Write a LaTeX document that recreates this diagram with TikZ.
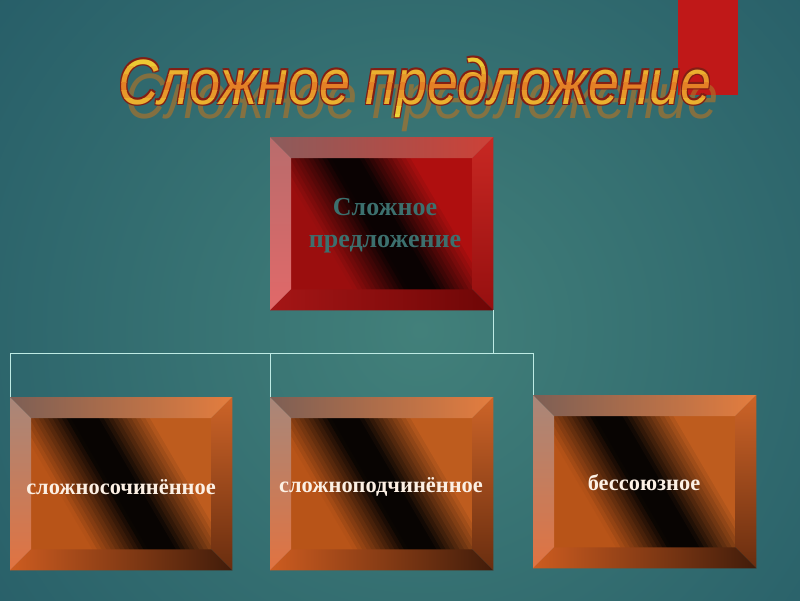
\documentclass[tikz,border=0pt]{standalone}
\usepackage{fontspec}
\setmainfont{Liberation Serif}
\newfontfamily\titlefont{Liberation Sans}
\usepackage{graphicx}
\usetikzlibrary{calc}
\definecolor{bgin}{RGB}{66,128,122}
\definecolor{bgmid}{RGB}{36,90,102}
\definecolor{bgout}{RGB}{16,56,76}
\definecolor{redtab}{RGB}{192,24,24}
\definecolor{connc}{RGB}{190,235,228}
\definecolor{ttyel}{RGB}{238,215,55}
\definecolor{ttora}{RGB}{228,128,38}
\definecolor{ttout}{RGB}{130,30,20}
\definecolor{ttshadow}{RGB}{175,115,40}
\definecolor{toptext}{RGB}{60,112,110}
\definecolor{lbltext}{RGB}{252,240,228}
% orange boxes
\definecolor{otA}{RGB}{125,95,85}\definecolor{otB}{RGB}{228,125,62}
\definecolor{olA}{RGB}{168,135,122}\definecolor{olB}{RGB}{225,115,65}
\definecolor{orA}{RGB}{205,100,40}\definecolor{orB}{RGB}{105,45,15}
\definecolor{obA}{RGB}{205,92,32}\definecolor{obB}{RGB}{65,28,10}
\definecolor{oiA}{RGB}{190,92,30}\definecolor{oiM}{RGB}{8,4,2}\definecolor{oiB}{RGB}{184,84,24}
% red box
\definecolor{rtA}{RGB}{140,92,92}\definecolor{rtB}{RGB}{205,65,55}
\definecolor{rlA}{RGB}{185,108,108}\definecolor{rlB}{RGB}{225,105,105}
\definecolor{rrA}{RGB}{200,40,35}\definecolor{rrB}{RGB}{150,15,15}
\definecolor{rbA}{RGB}{165,22,22}\definecolor{rbB}{RGB}{110,6,6}
\definecolor{riA}{RGB}{175,15,15}\definecolor{riM}{RGB}{10,2,2}\definecolor{riB}{RGB}{155,14,14}
\pgfdeclareradialshading{bgshade}{\pgfpoint{0bp}{0bp}}{color(0bp)=(bgin); color(28bp)=(bgmid); color(50bp)=(bgout)}
\newcommand\titletext{\scalebox{0.87}[1]{\titlefont\fontsize{64}{70}\selectfont\itshape Сложное предложение}}
\newcommand\stripfill[4]{% #1 node, #2 colour, #3 ta, #4 tb
  \fill[fill=#2] ($(#1.center)+(#3*0.862-81,-#3*0.507-138)$) -- ($(#1.center)+(#3*0.862+81,-#3*0.507+138)$) -- ($(#1.center)+(#4*0.862+81,-#4*0.507+138)$) -- ($(#1.center)+(#4*0.862-81,-#4*0.507-138)$) -- cycle;}
\newcommand\bevelbox[2]{%
  \coordinate (#1-itl) at ($(#1.north west)+(21,21)$);
  \coordinate (#1-itr) at ($(#1.north east)+(-21,21)$);
  \coordinate (#1-ibl) at ($(#1.south west)+(21,-21)$);
  \coordinate (#1-ibr) at ($(#1.south east)+(-21,-21)$);
  \begin{scope}
  \clip (#1-itl) rectangle (#1-ibr);
  \foreach \j in {0,...,56}{
    \pgfmathsetmacro\ta{-114+4*\j}
    \pgfmathsetmacro\tb{\ta+4.7}
    \pgfmathsetmacro\s{(\ta+2+111)/222}
    \ifdim\s pt<0.505pt
      \pgfmathsetmacro\w{100*max(0,min(1,(\s-0.24)/0.21))}
      \stripfill{#1}{#2iM!\w!#2iB}{\ta}{\tb}
    \else
      \pgfmathsetmacro\w{100*max(0,min(1,(0.77-\s)/0.21))}
      \stripfill{#1}{#2iM!\w!#2iA}{\ta}{\tb}
    \fi
  }
  \end{scope}
  \shade[left color=#2tA, right color=#2tB] (#1.north west) -- (#1.north east) -- (#1-itr) -- (#1-itl) -- cycle;
  \shade[top color=#2lA, bottom color=#2lB] (#1.north west) -- (#1-itl) -- (#1-ibl) -- (#1.south west) -- cycle;
  \shade[top color=#2rA, bottom color=#2rB] (#1.north east) -- (#1.south east) -- (#1-ibr) -- (#1-itr) -- cycle;
  \shade[left color=#2bA, right color=#2bB] (#1.south west) -- (#1-ibl) -- (#1-ibr) -- (#1.south east) -- cycle;
}
\begin{document}
\begin{tikzpicture}[x=1pt,y=-1pt,
  boxnode/.style={anchor=north west, inner sep=0pt, draw=none, minimum height=173},
  conn/.style={draw=connc, line width=0.8pt},
  lbl/.style={text=lbltext, font=\fontsize{22.4}{26}\selectfont\bfseries, inner sep=0pt},
  toplbl/.style={text=toptext, font=\fontsize{26}{32}\selectfont\bfseries, align=center, inner sep=0pt}]
\useasboundingbox (0,0) rectangle (800,600);
% background
\begin{scope}
\clip (0,0) rectangle (800,600);
\shade[shading=bgshade] (420,330) circle (540);
\end{scope}
\fill[redtab] (678,0) rectangle (738,95);
% title: shadow, outline, gradient fill
\node[anchor=base, text=ttshadow, opacity=0.65, inner sep=0pt] (tshadow) at (422,118) {\titletext};
\foreach \dx/\dy [count=\k] in {1.2/1.2,1.2/-1.2,-1.2/1.2,-1.2/-1.2}{
  \node[anchor=base, text=ttout, inner sep=0pt] (tout\k) at (415+\dx,104+\dy) {\titletext};
}
\foreach \i in {0,...,8}{
  \pgfmathsetmacro\ya{50+8*\i}
  \pgfmathsetmacro\yb{\ya+8.3}
  \pgfmathsetmacro\pc{min(100,abs(\i-4)*28)}
  \begin{scope}
  \clip (0,\ya) rectangle (800,\yb);
  \node[anchor=base, text=ttyel!\pc!ttora, inner sep=0pt] (tband\i) at (415,104) {\titletext};
  \end{scope}
}
% boxes
\node[boxnode, minimum width=223] (top) at (270,137) {};
\node[boxnode, minimum width=222] (b1) at (10,397) {};
\node[boxnode, minimum width=223] (b2) at (270,397) {};
\node[boxnode, minimum width=223] (b3) at (533,395) {};
\bevelbox{top}{r}
\bevelbox{b1}{o}
\bevelbox{b2}{o}
\bevelbox{b3}{o}
% connectors
\coordinate (busL) at (10,353);
\coordinate (busR) at (533,353);
\draw[conn] (top.south east) -- (top.south east |- busL);
\draw[conn] (b1.north west) -- (busL) -- (busR) -- (b3.north west);
\draw[conn] (b2.north west) -- (b2.north west |- busL);
% labels
\node[toplbl] (topt) at (385,226) {Сложное\\предложение};
\node[lbl] (b1t) at (121,487) {сложносочинённое};
\node[lbl] (b2t) at (381,487) {сложноподчинённое};
\node[lbl] (b3t) at (644,483) {бессоюзное};
\end{tikzpicture}
\end{document}
